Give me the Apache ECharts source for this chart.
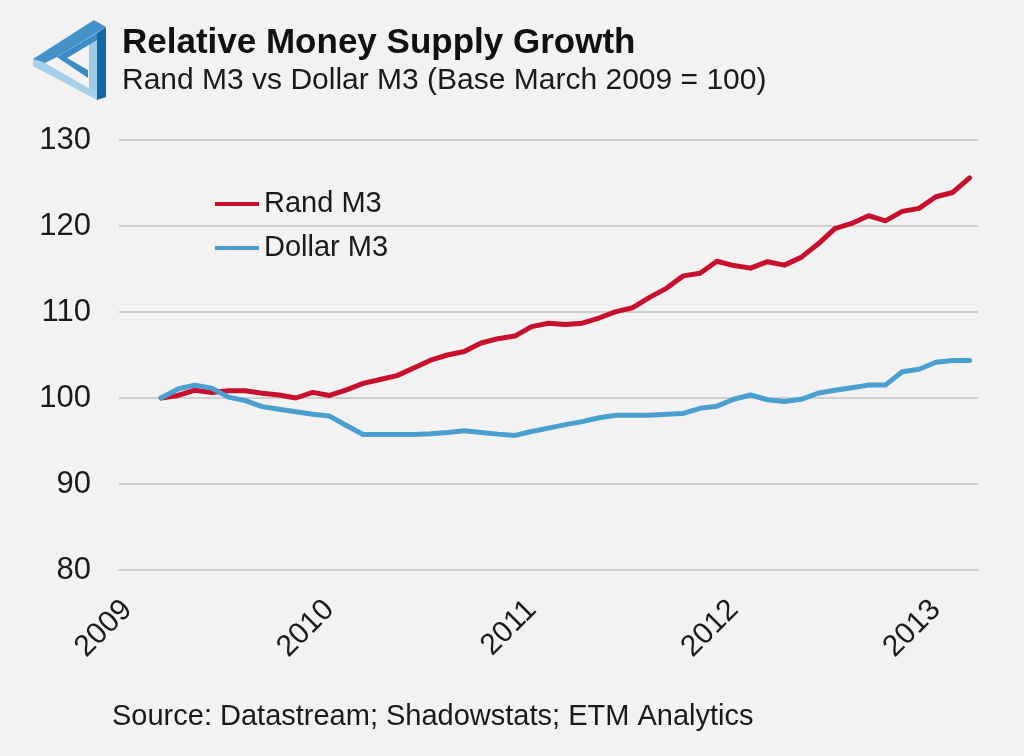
<!DOCTYPE html>
<html>
<head>
<meta charset="utf-8">
<script src="https://cdn.jsdelivr.net/npm/echarts@6/dist/echarts.min.js"></script>
<style>
html,body{margin:0;padding:0;background:#f2f2f2;}
#chart{width:1024px;height:756px;}
</style>
</head>
<body>
<div id="chart"></div>
<script>
// Monthly categories Jan 2009 .. Mar 2013
const months = [];
for (let y = 2009; y <= 2013; y++) {
  for (let m = 1; m <= 12; m++) {
    if (y === 2013 && m > 3) break;
    months.push(y + '-' + (m < 10 ? '0' + m : m));
  }
}
// Jan & Feb 2009 have no data (series start at base March 2009 = 100)
const randM3 = [null, null,
  100.0, 100.3, 100.9, 100.65, 100.85, 100.85, 100.55, 100.35, 100.0, 100.65,
  100.3, 100.95, 101.7, 102.15, 102.6, 103.5, 104.4, 105.0, 105.4, 106.4, 106.9, 107.2,
  108.3, 108.7, 108.55, 108.7, 109.3, 110.05, 110.5, 111.7, 112.75, 114.2, 114.5, 115.9,
  115.4, 115.1, 115.85, 115.45, 116.35, 117.9, 119.7, 120.3, 121.2, 120.6, 121.7, 122.05,
  123.4, 123.9, 125.6];
const dollarM3 = [null, null,
  100.0, 101.05, 101.5, 101.15, 100.1, 99.7, 99.0, 98.7, 98.4, 98.1,
  97.9, 96.8, 95.75, 95.75, 95.75, 95.75, 95.85, 96.0, 96.2, 96.0, 95.8, 95.65,
  96.1, 96.5, 96.9, 97.25, 97.7, 98.0, 98.0, 98.0, 98.1, 98.2, 98.8, 99.05,
  99.85, 100.35, 99.8, 99.6, 99.85, 100.55, 100.9, 101.2, 101.5, 101.5, 103.05, 103.35,
  104.15, 104.35, 104.35];
const yTicks = [80, 90, 100, 110, 120, 130];
const titleText = 'Relative Money Supply Growth';
const subtitleText = 'Rand M3 vs Dollar M3 (Base March 2009 = 100)';
const sourceText = 'Source: Datastream; Shadowstats; ETM Analytics';

const FONT = '"Liberation Sans", Arial, sans-serif';
const chart = echarts.init(document.getElementById('chart'), null, {renderer: 'canvas'});
chart.setOption({
  backgroundColor: '#f2f2f2',
  animation: false,
  textStyle: {fontFamily: FONT, color: '#1a1a1a'},
  grid: {left: 119, right: 46, top: 140, bottom: 186, containLabel: false},
  legend: {
    left: 210, top: 184, orient: 'vertical',
    itemWidth: 44, itemHeight: 14, itemGap: 14,
    icon: 'path://M0,5 L44,5 L44,9 L0,9 Z',
    textStyle: {fontSize: 29, color: '#1a1a1a', fontFamily: FONT, lineHeight: 30},
    data: ['Rand M3', 'Dollar M3']
  },
  xAxis: {
    type: 'category', data: months, boundaryGap: true,
    axisLine: {show: true, lineStyle: {color: '#cfcfcf', width: 2}},
    axisTick: {show: false},
    splitLine: {show: false},
    axisLabel: {
      interval: (i) => i % 12 === 0,
      rotate: 45, margin: 35, fontSize: 30, color: '#1a1a1a', fontFamily: FONT,
      formatter: (v) => v.slice(0, 4)
    }
  },
  yAxis: {
    type: 'value', min: yTicks[0], max: yTicks[yTicks.length - 1], interval: 10,
    axisLine: {show: false}, axisTick: {show: false},
    splitLine: {lineStyle: {color: '#cfcfcf', width: 2}},
    axisLabel: {fontSize: 31, color: '#1a1a1a', margin: 28, fontFamily: FONT}
  },
  series: [
    {name: 'Rand M3', type: 'line', data: randM3, symbol: 'none', connectNulls: false,
     color: '#c8102e', lineStyle: {width: 5, color: '#c8102e', cap: 'round', join: 'round'}},
    {name: 'Dollar M3', type: 'line', data: dollarM3, symbol: 'none', connectNulls: false,
     color: '#49a0d0', lineStyle: {width: 5, color: '#49a0d0', cap: 'round', join: 'round'}}
  ],
  graphic: [
    // logo (impossible triangle)
    {type: 'polygon', shape: {points: [[33,59],[33,66],[97,100],[97,93],[45,63]]}, style: {fill: '#a6d0ea'}},
    {type: 'polygon', shape: {points: [[89,41],[97,36],[97,93],[89,89]]}, style: {fill: '#9ccbe7'}},
    {type: 'polygon', shape: {points: [[33,59],[94,20],[106,27],[57,57],[45,63]]}, style: {fill: '#4592cb'}},
    {type: 'polygon', shape: {points: [[57,57],[97,33],[97,40],[67,58],[88,70],[88,78]]}, style: {fill: '#3a8bc6'}},
    {type: 'polygon', shape: {points: [[97,33],[106,27],[106,97],[97,100]]}, style: {fill: '#1367a7'}},
    {type: 'text', left: 122, top: 26, style: {text: titleText, font: 'bold 35px ' + FONT, fill: '#111'}},
    {type: 'text', left: 122, top: 66, style: {text: subtitleText, font: '30px ' + FONT, fill: '#1a1a1a'}},
    {type: 'text', left: 112, top: 702, style: {text: sourceText, font: '29px ' + FONT, fill: '#1a1a1a'}}
  ]
});
</script>
</body>
</html>
